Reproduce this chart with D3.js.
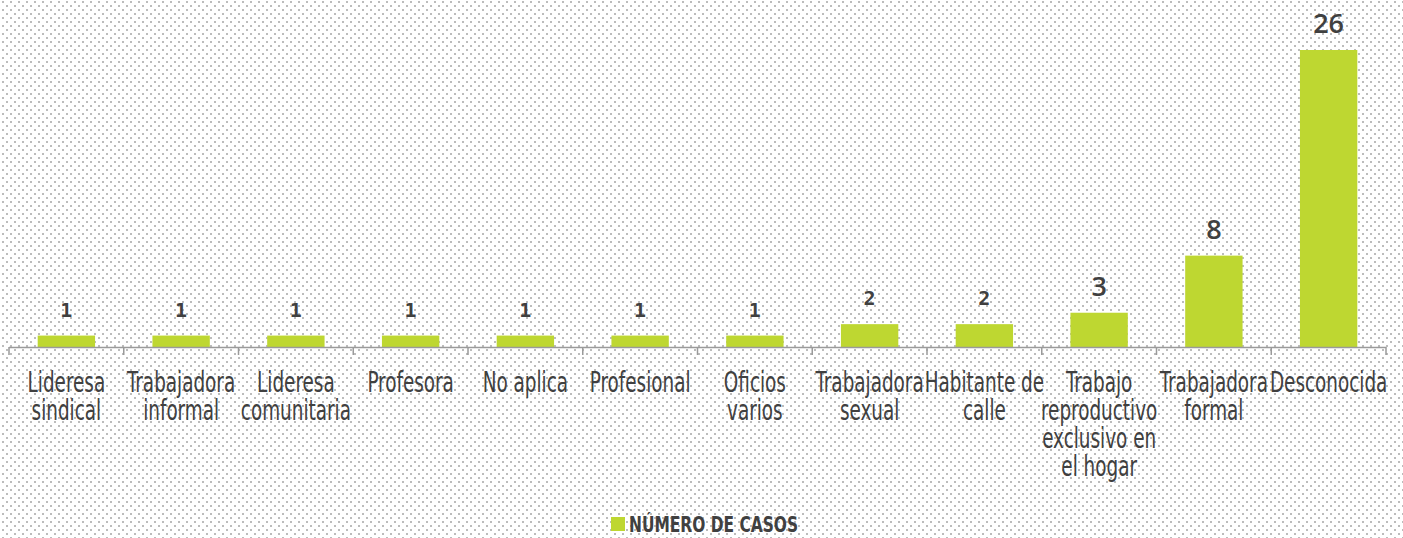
<!DOCTYPE html>
<html>
<head>
<meta charset="utf-8">
<script src="https://cdn.jsdelivr.net/npm/d3@7"></script>
<style>
    body { margin: 0; background: #fff; }
</style>
</head>
<body>
<script>
// Data
const categories = [
    "Lideresa sindical", "Trabajadora informal", "Lideresa comunitaria", "Profesora",
    "No aplica", "Profesional", "Oficios varios", "Trabajadora sexual",
    "Habitante de calle", "Trabajo reproductivo exclusivo en el hogar",
    "Trabajadora formal", "Desconocida"
];
const categoryLines = [
    ["Lideresa", "sindical"], ["Trabajadora", "informal"], ["Lideresa", "comunitaria"], ["Profesora"],
    ["No aplica"], ["Profesional"], ["Oficios", "varios"], ["Trabajadora", "sexual"],
    ["Habitante de", "calle"], ["Trabajo", "reproductivo", "exclusivo en", "el hogar"],
    ["Trabajadora", "formal"], ["Desconocida"]
];
const casos = [1, 1, 1, 1, 1, 1, 1, 2, 2, 3, 8, 26];
const seriesName = "NÚMERO DE CASOS";

const W = 1403, H = 538;
const barColor = "#bed731";
const textColor = "#404040";
const condensedFont = "'Liberation Sans Narrow', 'DejaVu Sans Condensed', sans-serif";

const svg = d3.select("body").append("svg")
    .attr("width", W)
    .attr("height", H);

// dotted background
const defs = svg.append("defs");
const pat = defs.append("pattern")
    .attr("id", "dots")
    .attr("width", 8)
    .attr("height", 8)
    .attr("patternUnits", "userSpaceOnUse");
pat.append("rect").attr("x", 2).attr("y", 1).attr("width", 2).attr("height", 2).attr("fill", "#bcbcbc");
pat.append("rect").attr("x", 6).attr("y", 5).attr("width", 2).attr("height", 2).attr("fill", "#bcbcbc");

svg.append("rect")
    .attr("width", W)
    .attr("height", H)
    .attr("fill", "url(#dots)");

// Scales
const x = d3.scaleBand()
    .domain(categories)
    .range([9, 1386])
    .padding(0);

const y = d3.scaleLinear()
    .domain([0, 26])
    .range([347, 50]);

// Bars
const barW = x.bandwidth() * 0.5;
svg.selectAll(".bar")
    .data(categories)
    .enter()
    .append("rect")
    .attr("class", "bar")
    .attr("x", d => x(d) + (x.bandwidth() - barW) / 2)
    .attr("y", (d, i) => y(casos[i]))
    .attr("width", barW)
    .attr("height", (d, i) => y(0) - y(casos[i]))
    .attr("fill", barColor);

// Axis
const axis = svg.append("g");
axis.append("line")
    .attr("x1", x.range()[0])
    .attr("x2", x.range()[1])
    .attr("y1", y(0) + 0.5)
    .attr("y2", y(0) + 0.5)
    .attr("stroke", "#9a9a9a")
    .attr("stroke-width", 1.5);

const edges = categories.map(d => x(d)).concat([x.range()[1]]);
axis.selectAll(".tick")
    .data(edges)
    .enter()
    .append("line")
    .attr("x1", d => d)
    .attr("x2", d => d)
    .attr("y1", y(0))
    .attr("y2", y(0) + 8)
    .attr("stroke", "#9a9a9a")
    .attr("stroke-width", 1.5);

// Value labels
svg.selectAll(".val")
    .data(categories)
    .enter()
    .append("text")
    .attr("class", "val")
    .attr("x", d => x(d) + x.bandwidth() / 2)
    .attr("y", (d, i) => y(casos[i]) - (casos[i] < 3 ? 19 : 17))
    .attr("text-anchor", "middle")
    .attr("fill", textColor)
    .style("font-family", (d, i) => casos[i] < 3 ? "'DejaVu Sans Mono', monospace" : "'Open Sans', sans-serif")
    .style("font-weight", (d, i) => casos[i] < 3 ? "bold" : "600")
    .style("font-size", (d, i) => casos[i] < 3 ? "20px" : "27px")
    .text((d, i) => casos[i]);

// Category labels (condensed)
const labels = svg.selectAll(".cat")
    .data(categories)
    .enter()
    .append("g")
    .attr("class", "cat")
    .attr("transform", d => `translate(${x(d) + x.bandwidth() / 2}, 392) scale(0.73, 1)`);

labels.append("text")
    .attr("text-anchor", "middle")
    .attr("fill", textColor)
    .style("font-family", condensedFont)
    .style("font-size", "28px")
    .each(function(d, i) {
        d3.select(this).selectAll("tspan")
            .data(categoryLines[i])
            .enter()
            .append("tspan")
            .attr("x", 0)
            .attr("dy", (t, j) => j === 0 ? 0 : 28)
            .text(t => t);
    });

// Legend
const legend = svg.append("g")
    .attr("transform", "translate(611, 517)");

legend.append("rect")
    .attr("width", 14)
    .attr("height", 14)
    .attr("fill", barColor);

legend.append("text")
    .attr("transform", "translate(18, 15) scale(0.78, 1)")
    .attr("fill", textColor)
    .style("font-family", condensedFont)
    .style("font-weight", "bold")
    .style("font-size", "22px")
    .text(seriesName);
</script>
</body>
</html>
